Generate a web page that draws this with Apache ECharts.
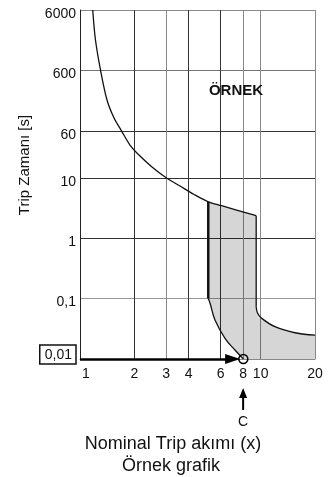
<!DOCTYPE html>
<html>
<head>
<meta charset="utf-8">
<script src="https://cdn.jsdelivr.net/npm/echarts@6/dist/echarts.min.js"></script>
<style>
html, body { margin: 0; padding: 0; background: #fff; }
#chart { width: 334px; height: 477px; }
</style>
</head>
<body>
<div id="chart"></div>
<script>
// eksen degerleri
var xTicks = [1, 2, 3, 4, 6, 8, 10, 20];
var yTicks = [0.01, 0.1, 1, 10, 60, 600, 6000];
var yTickLabels = ['0,01', '0,1', '1', '10', '60', '600', '6000'];

// egriler [akim x, sure s]
var upperCurve = [[1.176, 6000], [1.218, 1911], [1.30, 600], [1.411, 194], [1.543, 97.7], [1.697, 60], [1.891, 34.9], [2.149, 22.9], [2.504, 15.1], [3.0, 10], [3.58, 7.31], [4.28, 5.29], [5.13, 4.0], [6.08, 3.45], [9.45, 2.36]];
var bandTop = [[5.13, 4.0], [6.08, 3.45], [9.45, 2.36]];
var rightDrop = [[9.45, 2.36], [9.45, 0.0734]];
var rightTail = [[9.45, 0.0734], [9.61, 0.0577], [10.14, 0.0472], [12.0, 0.0343], [15.5, 0.0272], [20, 0.0249]];
var leftDrop = [[5.13, 4.0], [5.13, 0.1]];
var leftTail = [[5.13, 0.1], [5.25, 0.0836], [5.59, 0.0442], [6.35, 0.022], [7.21, 0.0141], [8.02, 0.01]];
var arrowFrom = [1, 0.01];
var arrowTo = [7.0, 0.01];
var markC = [8.02, 0.01];

var FONT = '"Liberation Sans", Arial, sans-serif';

// gri alan: ust kenar + sag kuyruk + alt kenar + sol kuyruk (ters)
var bandPoly = [].concat(bandTop, rightTail, [[20, 0.01], [8.02, 0.01]], leftTail.slice().reverse());

var chart = echarts.init(document.getElementById('chart'));

function yLabel(v) {
    for (var i = 0; i < yTicks.length; i++) {
        if (Math.abs(Math.log10(v) - Math.log10(yTicks[i])) < 0.01) {
            return i === 0 ? '{box|' + yTickLabels[i] + '}\n{gap| }' : '{n|' + yTickLabels[i] + '}';
        }
    }
    return '';
}

var option = {
    backgroundColor: '#fff',
    animation: false,
    textStyle: { fontFamily: FONT },
    grid: { left: 80, top: 10, right: 19, bottom: 118, containLabel: false },
    xAxis: {
        type: 'log',
        logBase: 10,
        min: 1,
        max: 20,
        axisLine: { show: true, lineStyle: { color: '#888', width: 1 } },
        axisTick: { show: false, customValues: xTicks },
        axisLabel: {
            customValues: xTicks,
            color: '#111',
            fontSize: 14,
            margin: 8,
            formatter: function (v) {
                var s = String(Math.round(v));
                return s === '1' ? '{one|1}' : s;
            },
            rich: { one: { fontSize: 14, color: '#111', padding: [0, 0, 0, 12] } }
        },
        splitLine: {
            show: true,
            lineStyle: { color: ['#333', '#333', '#888', '#333', '#333', '#888', '#888', '#888'], width: 1 }
        }
    },
    yAxis: {
        type: 'log',
        logBase: 10,
        min: 0.01,
        max: 6000,
        axisLine: { show: true, lineStyle: { color: '#222', width: 1 } },
        axisTick: { show: false, customValues: yTicks },
        axisLabel: {
            customValues: yTicks,
            color: '#111',
            fontSize: 14,
            margin: 4,
            formatter: yLabel,
            rich: {
                n: { fontSize: 14, color: '#111', padding: [8, 0, 0, 0] },
                box: {
                    fontSize: 14,
                    color: '#111',
                    borderColor: '#111',
                    borderWidth: 1.5,
                    padding: [3, 4, 2, 5]
                },
                gap: { fontSize: 1, lineHeight: 9 }
            }
        },
        splitLine: {
            show: true,
            lineStyle: { color: ['#999', '#999', '#333', '#333', '#333', '#777', '#888'], width: 1 }
        }
    },
    series: [
        {
            type: 'custom',
            coordinateSystem: 'cartesian2d',
            z: 1,
            silent: true,
            data: [markC],
            renderItem: function (params, api) {
                var pts = bandPoly.map(function (p) { return api.coord(p); });
                return { type: 'polygon', shape: { points: pts }, style: { fill: 'rgba(0,0,0,0.16)' } };
            }
        },
        {
            type: 'line', data: upperCurve, smooth: 0.3, symbol: 'none', z: 3,
            lineStyle: { color: '#111', width: 1.3 }
        },
        {
            type: 'line', data: rightDrop, symbol: 'none', z: 3,
            lineStyle: { color: '#111', width: 1.3 }
        },
        {
            type: 'line', data: rightTail, smooth: 0.4, symbol: 'none', z: 3,
            lineStyle: { color: '#111', width: 1.3 }
        },
        {
            type: 'line', data: leftDrop, symbol: 'none', z: 3,
            lineStyle: { color: '#111', width: 2.5 }
        },
        {
            type: 'line', data: leftTail, smooth: 0.4, symbol: 'none', z: 3,
            lineStyle: { color: '#111', width: 1.3 },
            markLine: {
                silent: true,
                symbol: ['none', 'triangle'],
                symbolSize: [10, 15],
                label: { show: false },
                lineStyle: { color: '#000', width: 2.5, type: 'solid' },
                data: [[{ coord: arrowFrom }, { coord: arrowTo }]]
            },
            markPoint: {
                silent: true,
                symbol: 'circle',
                symbolSize: 9,
                label: { show: false },
                itemStyle: { color: 'rgba(255,255,255,0)', borderColor: '#000', borderWidth: 1.5 },
                data: [{ coord: markC }]
            }
        }
    ]
};
chart.setOption(option);

// C oku ve yazilar
var pC = chart.convertToPixel({ gridIndex: 0 }, [8, 0.01]);
chart.setOption({
    graphic: [
        { type: 'text', x: 236, y: 91, style: { text: 'ÖRNEK', font: 'bold 15px ' + FONT, fill: '#111', align: 'center', verticalAlign: 'middle' } },
        { type: 'text', x: 25, y: 165, rotation: Math.PI / 2, style: { text: 'Trip Zamanı [s]', font: '15px ' + FONT, fill: '#111', align: 'center', verticalAlign: 'middle' } },
        { type: 'line', shape: { x1: pC[0], y1: 410, x2: pC[0], y2: 395 }, style: { stroke: '#000', lineWidth: 2 } },
        { type: 'polygon', shape: { points: [[pC[0], 388], [pC[0] - 4, 398], [pC[0] + 4, 398]] }, style: { fill: '#000' } },
        { type: 'text', x: pC[0], y: 422, style: { text: 'C', font: '14px ' + FONT, fill: '#111', align: 'center', verticalAlign: 'middle' } },
        { type: 'text', x: 173, y: 444, style: { text: 'Nominal Trip akımı (x)', font: '18px ' + FONT, fill: '#111', align: 'center', verticalAlign: 'middle' } },
        { type: 'text', x: 171, y: 466, style: { text: 'Örnek grafik', font: '18px ' + FONT, fill: '#111', align: 'center', verticalAlign: 'middle' } }
    ]
});
</script>
</body>
</html>
